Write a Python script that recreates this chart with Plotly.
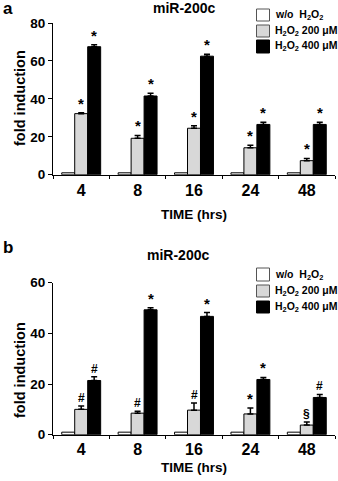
import plotly.graph_objects as go

W, H = 338, 481

times = ["4", "8", "16", "24", "48"]
series_names = ["w/o  H<sub>2</sub>O<sub>2</sub>",
                "H<sub>2</sub>O<sub>2</sub> 200 μM",
                "H<sub>2</sub>O<sub>2</sub> 400 μM"]
colors = ["#ffffff", "#d8d8d8", "#000000"]

# Panel a
a_ctrl = [1, 1, 1, 1, 1]
a_200 = [32.2, 19.2, 24.5, 14.2, 7.4]
a_200_err = [0.5, 1.5, 1.3, 1.3, 1.2]
a_400 = [67.5, 41.5, 62.5, 26.5, 26.5]
a_400_err = [1.0, 1.5, 1.0, 1.2, 1.2]
a_ctrl_err = [0, 0, 0, 0, 0]
a_marks_200 = ["*", "*", "*", "*", "*"]
a_marks_400 = ["*", "*", "*", "*", "*"]

# Panel b
b_ctrl = [1, 1, 1, 1, 1]
b_200 = [10.0, 8.5, 9.7, 8.2, 3.8]
b_200_err = [1.3, 0.8, 2.8, 2.3, 1.2]
b_400 = [21.4, 49.3, 46.7, 21.8, 14.7]
b_400_err = [1.5, 0.8, 1.5, 0.8, 1.2]
b_ctrl_err = [0, 0, 0, 0, 0]
b_marks_200 = ["#", "#", "#", "*", "§"]
b_marks_400 = ["#", "*", "*", "*", "#"]

FONT = "Liberation Sans, Arial, sans-serif"

def px_x(p):
    return p / W

def px_y(p):
    return 1 - p / H

fig = go.Figure()

panels = [
    dict(xa="x", ya="y", vals=[a_ctrl, a_200, a_400], errs=[a_ctrl_err, a_200_err, a_400_err],
         marks=[None, a_marks_200, a_marks_400]),
    dict(xa="x2", ya="y2", vals=[b_ctrl, b_200, b_400], errs=[b_ctrl_err, b_200_err, b_400_err],
         marks=[None, b_marks_200, b_marks_400]),
]

annotations = []
for p in panels:
    for i, (v, e) in enumerate(zip(p["vals"], p["errs"])):
        fig.add_trace(go.Bar(
            x=times, y=v, xaxis=p["xa"], yaxis=p["ya"],
            marker=dict(color=colors[i], line=dict(color="#000000", width=1)),
            error_y=dict(type="data", array=e, arrayminus=[0]*len(e), symmetric=False,
                         visible=i > 0, color="#000000", thickness=1.5, width=3),
            showlegend=False, name=series_names[i], hoverinfo="skip",
        ))
        if p["marks"][i] is not None:
            shift = (i - 1) * 13
            for k, (val, err, m) in enumerate(zip(v, e, p["marks"][i])):
                annotations.append(dict(
                    x=k, y=val + err, xref=p["xa"], yref=p["ya"], text=f"<b>{m}</b>",
                    showarrow=False, xshift=shift, xanchor="center", yanchor="bottom", yshift=-1,
                    font=dict(family=FONT, size=15 if m == "*" else 12, color="#000"),
                ))

axis_common = dict(showline=True, linecolor="#000", linewidth=1, ticks="outside",
                   tickcolor="#000", showgrid=False, zeroline=False, automargin=False)
xrange = [-0.5, len(times) - 0.5]

fig.update_layout(
    width=W, height=H, margin=dict(l=0, r=0, t=0, b=0, autoexpand=False),
    paper_bgcolor="white", plot_bgcolor="white",
    barmode="group", bargap=0.31, bargroupgap=0,
    xaxis=dict(type="category", range=xrange, domain=[px_x(53), px_x(335)], anchor="y",
               tickson="boundaries", ticklen=3, tickangle=0, ticklabelstandoff=1,
               tickfont=dict(family=FONT, size=16, color="#000", weight="bold"), **axis_common),
    yaxis=dict(domain=[px_y(174.7), px_y(23)], anchor="x", range=[0, 80], tickvals=[0, 20, 40, 60, 80],
               ticklen=4, tickfont=dict(family=FONT, size=13.5, color="#000", weight="bold"), **axis_common),
    xaxis2=dict(type="category", range=xrange, domain=[px_x(53), px_x(335)], anchor="y2",
                tickson="boundaries", ticklen=3, tickangle=0,
                tickfont=dict(family=FONT, size=16, color="#000", weight="bold"), **axis_common),
    yaxis2=dict(domain=[px_y(434.7), px_y(282.7)], anchor="x2", range=[0, 60], tickvals=[0, 20, 40, 60],
                ticklen=4, tickfont=dict(family=FONT, size=13.5, color="#000", weight="bold"), **axis_common),
)

def txt(x, y, s, size, **kw):
    d = dict(x=px_x(x), y=px_y(y), xref="paper", yref="paper", text=s, showarrow=False,
             xanchor="center", yanchor="middle",
             font=dict(family=FONT, size=size, color="#000", weight="bold"))
    d.update(kw)
    annotations.append(d)

# Panel labels, titles, axis titles
for (lab, ly, ty, ttx, xty, yty) in [("a", 8, 8, 184, 214, 98), ("b", 247, 255, 178, 467, 370)]:
    txt(8, ly, lab, 17)
    txt(ttx, ty, "miR-200c", 14)
    txt(194, xty, "TIME (hrs)", 13.5)
    txt(20, yty, "fold induction", 14.5, textangle=-90)

# Legends
shapes = []
for rows in [[(9, 21), (25, 37), (40, 53)], [(268, 281), (285, 297), (301, 313)]]:
    for i, (y0, y1) in enumerate(rows):
        shapes.append(dict(type="rect", xref="paper", yref="paper",
                           x0=px_x(256.5), x1=px_x(269.5), y0=px_y(y1), y1=px_y(y0),
                           fillcolor=colors[i], line=dict(color="#555" if i < 2 else "#000", width=1)))
        annotations.append(dict(x=px_x(274), y=px_y((y0 + y1) / 2), xref="paper", yref="paper",
                                text=series_names[i], showarrow=False, xanchor="left", yanchor="middle",
                                borderpad=0,
                                font=dict(family=FONT, size=10.5, color="#000", weight="bold")))

fig.update_layout(annotations=annotations, shapes=shapes)
fig.write_html("out.html", config={"displayModeBar": False},
               post_script="document.body.style.margin='0';document.body.style.overflow='hidden';")
